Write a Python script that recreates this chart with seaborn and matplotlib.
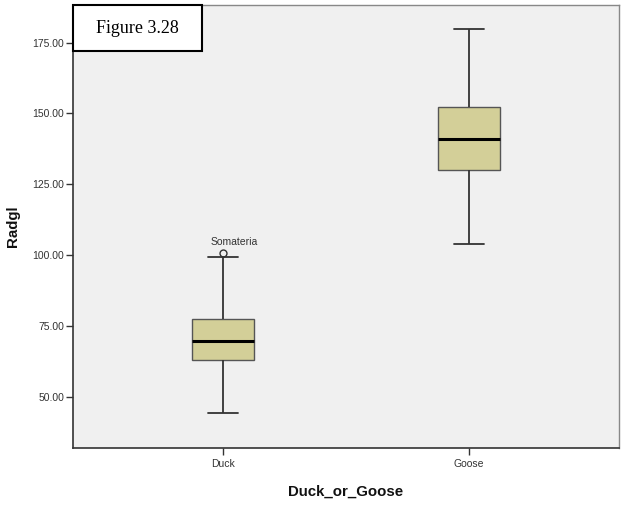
import numpy as np
import pandas as pd
import matplotlib.pyplot as plt
import matplotlib.patches as mpatches
import seaborn as sns

# five-number readings per group (q1, median, q3 repeated so quantiles land exactly)
duck_values = [44.2, 62.9, 62.9, 69.8, 69.8, 77.5, 77.5, 99.2, 100.6]
goose_values = [103.8, 130.2, 130.2, 141.1, 141.1, 141.1, 152.3, 152.3, 179.7]
categories = ["Duck", "Goose"]
y_ticks = [50, 75, 100, 125, 150, 175]
outlier_label = "Somateria"

df = pd.DataFrame({
    "Duck_or_Goose": ["Duck"] * len(duck_values) + ["Goose"] * len(goose_values),
    "Radgl": duck_values + goose_values,
})

sns.set_theme(style="white")
plt.rcParams["font.family"] = ["Liberation Sans", "DejaVu Sans"]

fig = plt.figure(figsize=(6.21, 5.07), dpi=100)
ax = fig.add_axes([73 / 621, 1 - 448 / 507, 546 / 621, 443 / 507])
ax.set_facecolor("#f0f0f0")

sns.boxplot(
    data=df, x="Duck_or_Goose", y="Radgl", order=categories, ax=ax,
    color="#d3cf98", saturation=1, width=0.25, whis=1.5,
    linecolor="#333333", linewidth=1.3,
    boxprops={"edgecolor": "#555555", "linewidth": 1.0},
    medianprops={"color": "black", "linewidth": 2.2},
    flierprops={"marker": "o", "markerfacecolor": "none",
                "markeredgecolor": "#333333", "markersize": 5, "markeredgewidth": 1.0},
)

ax.set_xlim(-0.61, 1.61)
ax.set_ylim(31.9, 188.3)
ax.set_yticks(y_ticks)
ax.set_yticklabels([f"{v:.2f}" for v in y_ticks])

ax.tick_params(axis="y", direction="out", length=5, width=1, color="#333333",
               labelsize=7.5, labelcolor="#333333", pad=1.5, left=True)
ax.tick_params(axis="x", direction="out", length=5, width=1, color="#333333",
               labelsize=7.5, labelcolor="#333333", pad=3, bottom=True)

ax.set_xlabel("Duck_or_Goose", fontsize=10.8, fontweight="bold", color="#111111", labelpad=11)
ax.set_ylabel("Radgl", fontsize=10.8, fontweight="bold", color="#111111", labelpad=9)

for side in ["left", "bottom"]:
    ax.spines[side].set_color("#333333")
    ax.spines[side].set_linewidth(1.2)
for side in ["top", "right"]:
    ax.spines[side].set_color("#888888")
    ax.spines[side].set_linewidth(1.0)

# label the outlier
ax.annotate(outlier_label, xy=(0, duck_values[-1]), xytext=(-9, 8),
            textcoords="offset points", ha="left", va="center",
            fontsize=7.5, color="#333333")

# "Figure 3.28" box in the top-left corner
rect = mpatches.Rectangle((0, 0.896), 0.236, 0.104, transform=ax.transAxes,
                          facecolor="white", edgecolor="black", linewidth=1.5,
                          zorder=5, clip_on=False)
ax.add_patch(rect)
ax.text(0.118, 0.948, "Figure 3.28", transform=ax.transAxes, ha="center", va="center",
        fontsize=13, family=["Liberation Serif", "DejaVu Serif"], color="black", zorder=6)

fig.savefig("out.png", dpi=100)
